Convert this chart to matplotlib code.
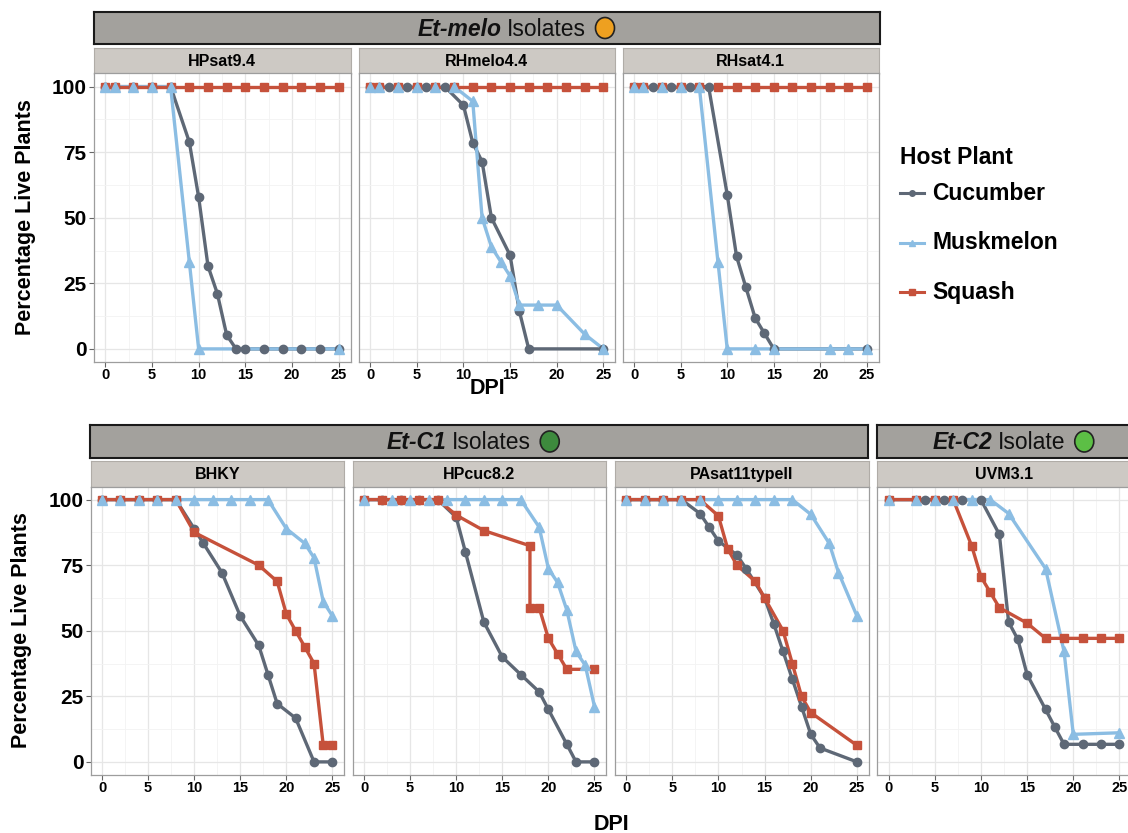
import matplotlib
matplotlib.use("Agg")
import matplotlib.pyplot as plt
from matplotlib.lines import Line2D
from matplotlib.patches import Ellipse

plt.rcParams['font.family'] = ['Liberation Sans', 'DejaVu Sans']

# host plants and colours
hosts = ["Cucumber", "Muskmelon", "Squash"]
host_colors = {"Cucumber": "#5e6876", "Muskmelon": "#8bbde3", "Squash": "#c6513b"}
host_markers = {"Cucumber": "o", "Muskmelon": "^", "Squash": "s"}

x_ticks = [0, 5, 10, 15, 20, 25]
y_ticks = [0, 25, 50, 75, 100]

# ---- Et-melo isolates ----
HPsat94 = {
    "Cucumber": ([0, 1, 3, 5, 7, 9, 10, 11, 12, 13, 14, 15, 17, 19, 21, 23, 25],
                 [100, 100, 100, 100, 100, 78.9, 57.9, 31.6, 21.1, 5.3, 0, 0, 0, 0, 0, 0, 0]),
    "Muskmelon": ([0, 1, 3, 5, 7, 9, 10, 25],
                  [100, 100, 100, 100, 100, 33.3, 0, 0]),
    "Squash": ([0, 1, 3, 5, 7, 9, 11, 13, 15, 17, 19, 21, 23, 25],
               [100, 100, 100, 100, 100, 100, 100, 100, 100, 100, 100, 100, 100, 100]),
}
RHmelo44 = {
    "Cucumber": ([0, 2, 4, 6, 8, 10, 11, 12, 13, 15, 16, 17, 25],
                 [100, 100, 100, 100, 100, 92.9, 78.6, 71.4, 50, 35.7, 14.3, 0, 0]),
    "Muskmelon": ([0, 1, 3, 5, 7, 9, 11, 12, 13, 14, 15, 16, 18, 20, 23, 25],
                  [100, 100, 100, 100, 100, 100, 94.4, 50, 38.9, 33.3, 27.8, 16.7, 16.7, 16.7, 5.6, 0]),
    "Squash": ([0, 1, 3, 5, 7, 9, 11, 13, 15, 17, 19, 21, 23, 25],
               [100, 100, 100, 100, 100, 100, 100, 100, 100, 100, 100, 100, 100, 100]),
}
RHsat41 = {
    "Cucumber": ([0, 2, 4, 6, 8, 10, 11, 12, 13, 14, 15, 25],
                 [100, 100, 100, 100, 100, 58.8, 35.3, 23.5, 11.8, 5.9, 0, 0]),
    "Muskmelon": ([0, 1, 3, 5, 7, 9, 10, 13, 15, 21, 23, 25],
                  [100, 100, 100, 100, 100, 33.3, 0, 0, 0, 0, 0, 0]),
    "Squash": ([0, 1, 3, 5, 7, 9, 11, 13, 15, 17, 19, 21, 23, 25],
               [100, 100, 100, 100, 100, 100, 100, 100, 100, 100, 100, 100, 100, 100]),
}

# ---- Et-C1 isolates ----
BHKY = {
    "Cucumber": ([0, 2, 4, 6, 8, 10, 11, 13, 15, 17, 18, 19, 21, 23, 25],
                 [100, 100, 100, 100, 100, 88.9, 83.3, 72.2, 55.6, 44.4, 33.3, 22.2, 16.7, 0, 0]),
    "Muskmelon": ([0, 2, 4, 6, 8, 10, 12, 14, 16, 18, 20, 22, 23, 24, 25],
                  [100, 100, 100, 100, 100, 100, 100, 100, 100, 100, 88.9, 83.3, 77.8, 61.1, 55.6]),
    "Squash": ([0, 2, 4, 6, 8, 10, 17, 19, 20, 21, 22, 23, 24, 25],
               [100, 100, 100, 100, 100, 87.5, 75, 68.8, 56.3, 50, 43.8, 37.5, 6.3, 6.3]),
}
HPcuc82 = {
    "Cucumber": ([0, 2, 4, 6, 8, 10, 11, 13, 15, 17, 19, 20, 22, 23, 25],
                 [100, 100, 100, 100, 100, 93.3, 80, 53.3, 40, 33.3, 26.7, 20, 6.7, 0, 0]),
    "Muskmelon": ([0, 3, 5, 7, 9, 11, 13, 15, 17, 19, 20, 21, 22, 23, 24, 25],
                  [100, 100, 100, 100, 100, 100, 100, 100, 100, 89.5, 73.7, 68.4, 57.9, 42.1, 36.8, 21.1]),
    "Squash": ([0, 2, 4, 6, 8, 10, 13, 18, 18, 19, 20, 21, 22, 25],
               [100, 100, 100, 100, 100, 94.1, 88.2, 82.4, 58.8, 58.8, 47.1, 41.2, 35.3, 35.3]),
}
PAsat11 = {
    "Cucumber": ([0, 2, 4, 6, 8, 9, 10, 12, 13, 15, 16, 17, 18, 19, 20, 21, 25],
                 [100, 100, 100, 100, 94.7, 89.5, 84.2, 78.9, 73.7, 62.5, 52.6, 42.1, 31.6, 21.1, 10.5, 5.3, 0]),
    "Muskmelon": ([0, 2, 4, 6, 8, 10, 12, 14, 16, 18, 20, 22, 23, 25],
                  [100, 100, 100, 100, 100, 100, 100, 100, 100, 100, 94.4, 83.3, 72.2, 55.6]),
    "Squash": ([0, 2, 4, 6, 8, 10, 11, 12, 14, 15, 17, 18, 19, 20, 25],
               [100, 100, 100, 100, 100, 93.8, 81.3, 75, 68.8, 62.5, 50, 37.5, 25, 18.8, 6.3]),
}

# ---- Et-C2 isolate ----
UVM31 = {
    "Cucumber": ([0, 4, 6, 8, 10, 12, 13, 14, 15, 17, 18, 19, 21, 23, 25],
                 [100, 100, 100, 100, 100, 86.7, 53.3, 46.7, 33.3, 20, 13.3, 6.7, 6.7, 6.7, 6.7]),
    "Muskmelon": ([0, 3, 5, 7, 9, 11, 13, 17, 19, 20, 25],
                  [100, 100, 100, 100, 100, 100, 94.7, 73.7, 42.1, 10.5, 11.1]),
    "Squash": ([0, 3, 5, 7, 9, 10, 11, 12, 15, 17, 19, 21, 23, 25],
               [100, 100, 100, 100, 82.4, 70.6, 64.7, 58.8, 52.9, 47.1, 47.1, 47.1, 47.1, 47.1]),
}

W, H = 1128, 833
fig = plt.figure(figsize=(W / 100, H / 100), dpi=100)


def px_axes(left, top, right, bottom):
    return fig.add_axes([left / W, 1 - bottom / H, (right - left) / W, (bottom - top) / H])


def strip(left, top, right, bottom, label):
    s = px_axes(left, top, right, bottom)
    s.set_facecolor("#cdc9c4")
    s.set_xticks([])
    s.set_yticks([])
    for sp in s.spines.values():
        sp.set_color("#b0aca7")
        sp.set_linewidth(0.8)
    s.text(0.5, 0.47, label, ha="center", va="center", fontsize=11.5,
           fontweight="bold", transform=s.transAxes)


def panel(left, top, right, bottom, data, show_y):
    ax = px_axes(left, top, right, bottom)
    # lines first, then points (ggplot-like layering)
    for h in hosts:
        x, y = data[h]
        ax.plot(x, y, "-", color=host_colors[h], lw=2.4, zorder=2,
                solid_joinstyle="round", solid_capstyle="round")
    for h in ["Cucumber", "Squash", "Muskmelon"]:
        x, y = data[h]
        ms = 7.5 if h == "Muskmelon" else 6
        ax.plot(x, y, ls="none", marker=host_markers[h], color=host_colors[h],
                ms=ms, mec=host_colors[h], zorder=3)
    ax.set_xlim(-1.25, 26.25)
    ax.set_ylim(-5, 105)
    ax.set_xticks(x_ticks)
    ax.set_yticks(y_ticks)
    ax.set_xticks([2.5, 7.5, 12.5, 17.5, 22.5], minor=True)
    ax.set_yticks([12.5, 37.5, 62.5, 87.5], minor=True)
    ax.grid(True, which="major", color="#e6e6e6", lw=0.9)
    ax.grid(True, which="minor", color="#f3f3f3", lw=0.6)
    ax.set_axisbelow(True)
    ax.tick_params(which="minor", length=0)
    ax.tick_params(which="major", length=3.5, width=0.8, color="#666666", pad=1.5)
    ax.tick_params(axis="x", pad=0.5)
    for lab in ax.get_xticklabels():
        lab.set_fontsize(10.5)
        lab.set_fontweight("bold")
    if show_y:
        for lab in ax.get_yticklabels():
            lab.set_fontsize(15)
            lab.set_fontweight("bold")
    else:
        ax.tick_params(axis="y", left=False, labelleft=False)
    for sp in ax.spines.values():
        sp.set_color("#9d9d9d")
        sp.set_linewidth(0.9)
    return ax


# top row
top_cols = [(93.5, 350.5), (358.5, 615), (622.5, 878.5)]
top_data = [("HPsat9.4", HPsat94), ("RHmelo4.4", RHmelo44), ("RHsat4.1", RHsat41)]
for i, ((l, r), (name, d)) in enumerate(zip(top_cols, top_data)):
    strip(l, 47.5, r, 73.5, name)
    panel(l, 73.5, r, 362, d, i == 0)

# bottom row
bot_cols = [(90.5, 344), (352.5, 606), (614.5, 868.5), (877, 1131)]
bot_data = [("BHKY", BHKY), ("HPcuc8.2", HPcuc82), ("PAsat11typeII", PAsat11), ("UVM3.1", UVM31)]
for i, ((l, r), (name, d)) in enumerate(zip(bot_cols, bot_data)):
    strip(l, 461, r, 486.5, name)
    panel(l, 486.5, r, 775, d, i == 0)

renderer = fig.canvas.get_renderer()


def header(left, top, right, bottom, italic, rest, x_start, circ_color):
    hx = px_axes(left, top, right, bottom)
    hx.set_facecolor("#a3a19d")
    hx.set_xlim(left, right)
    hx.set_ylim(bottom, top)
    hx.set_xticks([])
    hx.set_yticks([])
    for sp in hx.spines.values():
        sp.set_color("#1a1a1a")
        sp.set_linewidth(1.5)
    yc = (top + bottom) / 2 + 1
    t1 = hx.text(x_start, yc, italic, ha="left", va="center", fontsize=16.5,
                 fontstyle="italic", fontweight="bold", color="#111111")
    e1 = t1.get_window_extent(renderer)
    t2 = hx.text(x_start + e1.width + 5, yc, rest, ha="left", va="center",
                 fontsize=16.5, color="#111111")
    e2 = t2.get_window_extent(renderer)
    cx = x_start + e1.width + 5 + e2.width + 19
    hx.add_patch(Ellipse((cx, yc - 1), 19, 21, facecolor=circ_color,
                         edgecolor="#222222", lw=1.2))


header(93.5, 12, 880, 44, "Et-melo", "Isolates", 418, "#eea020")
header(90, 425, 868.5, 458, "Et-C1", "Isolates", 387, "#3d8a3d")
header(877, 425, 1135, 458, "Et-C2", "Isolate", 933, "#5cbf45")

# axis labels
fig.text(26 / W, 1 - 217 / H, "Percentage Live Plants", rotation=90, ha="center",
         va="center", fontsize=15.5, fontweight="bold")
fig.text(22 / W, 1 - 630 / H, "Percentage Live Plants", rotation=90, ha="center",
         va="center", fontsize=15.5, fontweight="bold")
fig.text(487 / W, 1 - 389 / H, "DPI", ha="center", va="center", fontsize=15.5,
         fontweight="bold")
fig.text(611 / W, 1 - 824 / H, "DPI", ha="center", va="center", fontsize=15.5,
         fontweight="bold")

# legend
fig.text(900 / W, 1 - 157 / H, "Host Plant", ha="left", va="center", fontsize=16.5,
         fontweight="bold")
for i, h in enumerate(hosts):
    yy = 1 - (193 + 49.5 * i) / H
    fig.add_artist(Line2D([900 / W, 924 / W], [yy, yy], color=host_colors[h], lw=2.2,
                          transform=fig.transFigure))
    fig.add_artist(Line2D([912 / W], [yy], marker=host_markers[h], color=host_colors[h],
                          ms=4, transform=fig.transFigure))
    fig.text(932 / W, yy, h, ha="left", va="center", fontsize=16.5, fontweight="bold")

fig.savefig("out.png", dpi=100)
